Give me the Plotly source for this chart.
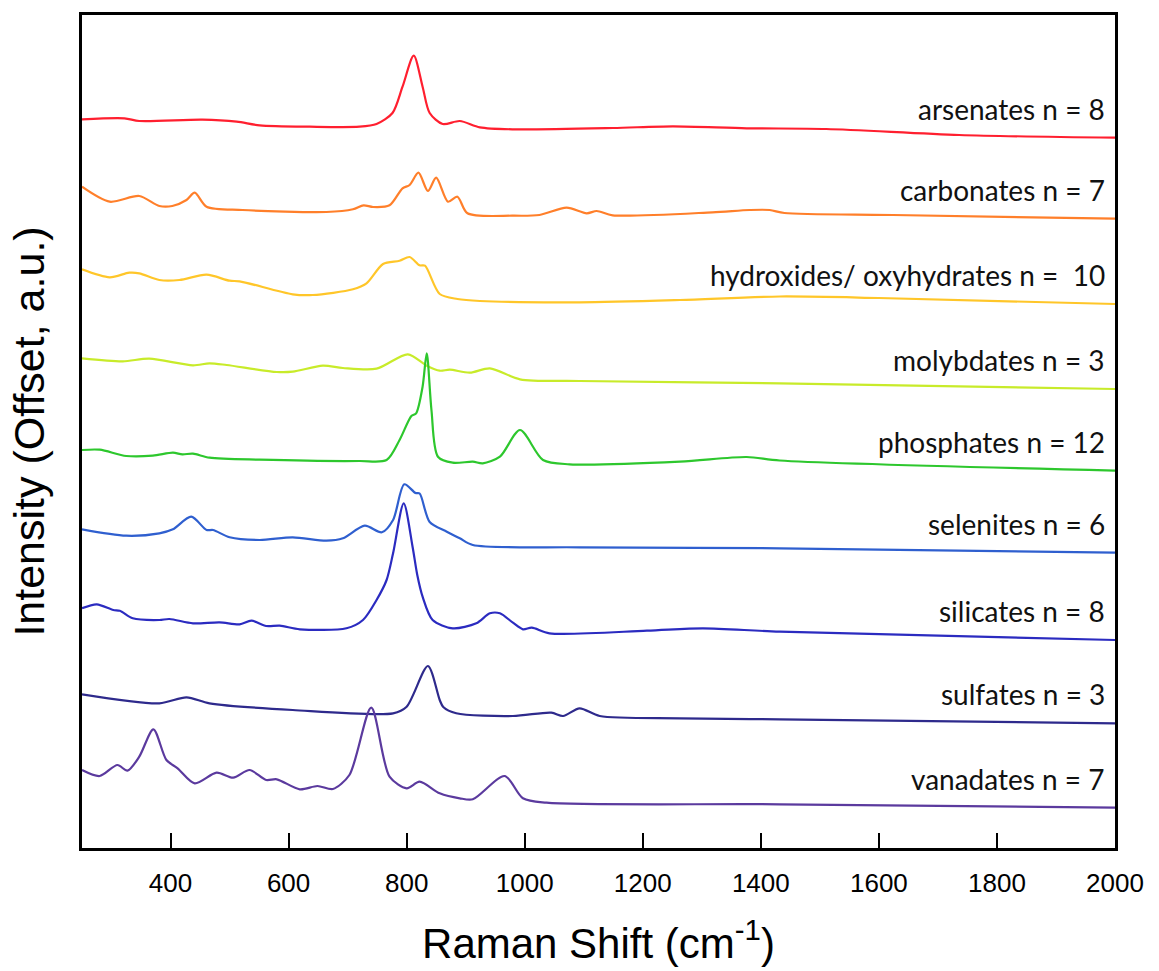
import plotly.graph_objects as go

# Raman shift positions (cm-1) and offset intensities (a.u.)
arsenates_x = [250, 322, 347, 454, 512, 551, 636, 720, 749, 776, 793, 812, 827, 839, 861, 890, 924, 980, 1149, 1251, 1376, 1511, 1736, 2000]
arsenates_y = [728.7, 729.7, 727, 728.3, 726.3, 722.7, 721.3, 721.3, 724, 735, 761.3, 792.3, 761.3, 735, 724, 727, 720.7, 718.7, 720, 721.7, 719.7, 719, 713, 710.3]

carbonates_x = [250, 297, 347, 381, 403, 427, 441, 461, 522, 664, 709, 727, 743, 771, 793, 805, 820, 836, 850, 870, 886, 903, 980, 1025, 1071, 1105, 1122, 1149, 1318, 1381, 1415, 1440, 1624, 2000]
carbonates_y = [661.3, 646.3, 652, 642, 642, 648, 655.3, 641.3, 638, 636, 638.7, 642.7, 641, 642.7, 659.7, 663, 675.3, 657, 670.3, 646.3, 651.3, 634.7, 632.3, 633, 640.3, 634.7, 637, 632.7, 635.7, 638, 638, 635, 633, 629.3]

hydroxides_x = [250, 297, 330, 347, 381, 415, 461, 500, 517, 607, 641, 709, 732, 760, 788, 805, 822, 831, 856, 886, 924, 1093, 1263, 1432, 1600, 2000]
hydroxides_y = [578.7, 570.7, 575.3, 574.7, 568, 568, 573.3, 567.3, 566.7, 553.7, 553, 558.7, 564.7, 584, 587.3, 591, 582.7, 582.3, 554, 549, 547, 545.7, 548, 551.5, 550, 544]

molybdates_x = [250, 319, 364, 438, 466, 495, 580, 607, 658, 692, 749, 802, 834, 856, 873, 907, 941, 992, 1093, 1432, 2000]
molybdates_y = [489.7, 486.7, 489.3, 482.7, 484.7, 483, 476, 476.3, 482.3, 480, 479.3, 493.7, 482.3, 477.3, 478.3, 475.3, 479.7, 468.7, 467, 464.7, 459]

phosphates_x = [250, 280, 325, 370, 404, 420, 438, 466, 551, 720, 766, 788, 808, 816, 827, 834, 842, 853, 878, 912, 929, 958, 992, 1031, 1076, 1263, 1376, 1432, 2000]
phosphates_y = [398, 398.3, 392, 392.3, 395.3, 393.7, 394.3, 390.3, 388.3, 387, 388, 408, 432, 434.7, 461.3, 494.7, 438, 391.3, 385.3, 386.3, 384.7, 391.3, 418, 388, 383.7, 386.3, 391, 387.5, 377.3]

selenites_x = [250, 325, 381, 404, 435, 461, 472, 500, 551, 607, 664, 692, 729, 758, 777, 796, 815, 822, 839, 868, 890, 912, 1093, 1432, 2000]
selenites_y = [318.7, 312.3, 314.7, 318.7, 331.3, 318, 318, 310.7, 308, 310.7, 307.3, 309.7, 322.3, 315.7, 328, 363.7, 355, 354.5, 326, 316.3, 309.7, 303, 300.7, 299.7, 295.3]

silicates_x = [250, 275, 303, 314, 336, 381, 398, 438, 483, 517, 537, 562, 585, 619, 698, 726, 749, 766, 777, 795, 810, 818, 827, 844, 878, 918, 941, 958, 980, 997, 1012, 1042, 1207, 1302, 1432, 2000]
silicates_y = [239.7, 243.7, 238, 237.3, 229.7, 228, 229, 224.7, 225.7, 223.7, 227.3, 222, 222.3, 218.7, 219.7, 228, 248, 268, 294.7, 344.7, 301.3, 273, 251.3, 228, 219.7, 224.7, 234.7, 234.7, 225.3, 218.7, 220.3, 214.7, 217.3, 219.7, 216.3, 208]

sulfates_x = [250, 381, 427, 466, 607, 777, 800, 836, 856, 862, 884, 980, 1045, 1065, 1093, 1127, 1263, 1432, 2000]
sulfates_y = [153.7, 144.7, 150.7, 144.7, 138, 134.7, 141.3, 182, 148, 141, 134.7, 132, 135.3, 132, 139.7, 132, 129.7, 128.7, 124.7]

vanadates_x = [250, 280, 310, 327, 347, 371, 393, 412, 441, 478, 506, 534, 562, 580, 619, 649, 675, 703, 740, 771, 800, 822, 856, 890, 912, 966, 997, 1037, 1432, 2000]
vanadates_y = [78, 72, 83, 77.3, 91.3, 118.7, 88, 79.7, 64.7, 75.3, 70.3, 78, 68, 68.7, 58.7, 62, 59, 73, 140.3, 71.3, 59.7, 66.3, 54.7, 49.7, 48.7, 72, 49.7, 45.3, 43.7, 40.3]

labels = ["arsenates n = 8", "carbonates n = 7", "hydroxides/ oxyhydrates n =  10", "molybdates n = 3",
          "phosphates n = 12", "selenites n = 6", "silicates n = 8", "sulfates n = 3", "vanadates n = 7"]
colors = ["#FF1F2F", "#FF7F2A", "#FFC629", "#C8EB2A", "#2DC72D", "#2F5FCF", "#2B2BC0", "#2E2A8C", "#5B3A9E"]

xs = [arsenates_x, carbonates_x, hydroxides_x, molybdates_x, phosphates_x, selenites_x, silicates_x, sulfates_x, vanadates_x]
ys = [arsenates_y, carbonates_y, hydroxides_y, molybdates_y, phosphates_y, selenites_y, silicates_y, sulfates_y, vanadates_y]

tick_vals = [400, 600, 800, 1000, 1200, 1400, 1600, 1800, 2000]

fig = go.Figure()
annotations = []
for x, y, lab, col in zip(xs, ys, labels, colors):
    fig.add_trace(go.Scatter(x=x, y=y, mode="lines", name=lab,
                             line=dict(color=col, width=2.2, shape="spline", smoothing=0.8)))
    annotations.append(dict(x=1986, y=y[-1], xref="x", yref="y", text=lab, showarrow=False,
                            xanchor="right", yanchor="middle", yshift=29,
                            font=dict(family="Lato, Open Sans, sans-serif", size=28, color="#111111")))

fig.update_layout(
    width=1159, height=971,
    margin=dict(l=82, r=44, t=15, b=123),
    paper_bgcolor="white", plot_bgcolor="white",
    showlegend=False,
    annotations=annotations,
    xaxis=dict(range=[250, 2000], tickvals=tick_vals, ticks="inside", ticklen=15, tickwidth=2,
               tickcolor="black", showline=True, linecolor="black", linewidth=2.5, mirror=True,
               showgrid=False, zeroline=False, ticklabelstandoff=10,
               tickfont=dict(family="Liberation Sans, Arial, sans-serif", size=26, color="black"),
               title=dict(text="Raman Shift (cm<sup>-1</sup>)", standoff=32,
                          font=dict(family="Liberation Sans, Arial, sans-serif", size=42, color="black"))),
    yaxis=dict(range=[0, 833], showticklabels=False, ticks="", showline=True, linecolor="black",
               linewidth=2.5, mirror=True, showgrid=False, zeroline=False,
               title=dict(text="Intensity (Offset, a.u.)", standoff=22,
                          font=dict(family="Liberation Sans, Arial, sans-serif", size=43, color="black"))),
)

fig.write_html("out.html")
